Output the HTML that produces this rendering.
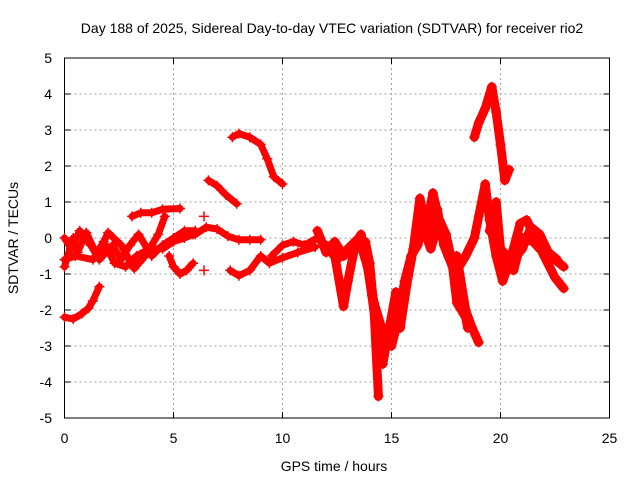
<!DOCTYPE html>
<html><head><meta charset="utf-8"><style>
body{margin:0;background:#fff}
svg{display:block;font-family:"Liberation Sans",sans-serif}
</style></head><body>
<svg id="chart" width="640" height="480" viewBox="0 0 640 480">
<text x="332" y="33" font-size="14" text-anchor="middle">Day 188 of 2025, Sidereal Day-to-day VTEC variation (SDTVAR) for receiver rio2</text>
<text x="334" y="471" font-size="14" text-anchor="middle">GPS time / hours</text>
<text transform="translate(18,238) rotate(-90)" font-size="14" text-anchor="middle">SDTVAR / TECUs</text>
<g id="grid"></g>
<g id="axes"></g>
<g id="marks"></g>
</svg>
<script>
const xTicks=[0,5,10,15,20,25];
const yTicks=[-5,-4,-3,-2,-1,0,1,2,3,4,5];
const trackTimes=[
[0,0.4,0.8,1.1,1.3,1.6],
[0,0.4,0.6,1.0,1.5,2.0,2.6,3.2,3.7,4.3,4.6],
[0,0.3,0.7,1.2,1.6,2.2,2.6,3.0,3.4,4.0,4.5,5.0,5.5,6.0],
[0,0.5,1.3,1.8,2.3,2.8,3.3,3.9,4.5,5.0,5.5,5.9],
[3.1,3.5,4.0,4.5,5.3],
[4.8,5.0,5.3,5.6,5.9],
[6.0,6.5,7.0,7.5,8.0,8.5,9.0],
[6.6,7.0,7.4,7.9],
[7.7,8.0,8.5,9.0,9.3,9.6,10.0],
[7.6,8.0,8.5,9.0,9.4,10.0,10.7,11.5],
[9.5,10.0,10.5,11.0,11.6],
[11.6,12.0,12.4,12.8,13.3,13.6,13.8,14.1,14.3,14.5,14.8,15.0,15.3,15.6,15.9,16.2,16.5,16.8,17.1,17.4,17.8,18.0,18.4,18.5],
[12.4,12.8,13.0,13.3,13.8,14.0,14.2,14.4],
[14.6,14.9,15.2,15.4,15.7,16.0,16.3,16.6,16.9,17.3,17.6,18.0,18.4,18.7,19.0],
[18.0,18.4,18.8,19.0,19.3,19.5,19.8,20.1,20.5,20.9,21.2,21.6,22.0,22.5,22.9],
[19.5,19.8,20.0,20.3,20.6,21.0,21.5,21.8,22.3,22.9],
[18.8,19.0,19.3,19.6,19.8,20.0,20.2,20.4],
[15.3,15.6,15.9,16.2,16.5,16.8,17.2,17.5,17.9,18.2,18.5],
[19.8,20.2,20.6,21.0,21.4,21.8,22.2,22.6],
[12.0,12.5,13.0,13.5,13.9,14.2,14.6,15.0],
[6.4],[6.4]
];
const trackValues=[
[-2.2,-2.25,-2.1,-1.95,-1.75,-1.35],
[-0.8,0,-0.4,0.15,-0.5,0.15,-0.2,-0.85,-0.5,0.1,0.6],
[0,-0.3,0.2,-0.2,-0.6,-0.2,-0.6,-0.2,0.1,-0.5,-0.2,0,0.2,0.2],
[-0.6,-0.5,-0.6,-0.1,-0.7,-0.8,-0.5,-0.3,-0.3,-0.1,0,0.1],
[0.6,0.7,0.7,0.8,0.82],
[-0.5,-0.8,-1.0,-0.9,-0.7],
[0.1,0.3,0.25,0.05,-0.05,-0.05,-0.05],
[1.6,1.45,1.2,0.95],
[2.8,2.9,2.8,2.6,2.2,1.7,1.5],
[-0.9,-1.05,-0.9,-0.5,-0.7,-0.55,-0.4,-0.25],
[-0.5,-0.2,-0.1,-0.2,0],
[0.2,-0.4,-0.1,-0.5,-0.2,0.1,-0.4,-1.6,-2.5,-3.0,-2.8,-3.0,-2.3,-1.2,-0.5,-0.2,0.5,0.2,0.8,-0.2,-0.8,-1.8,-2.2,-2.5],
[-0.5,-1.9,-1.2,-0.3,-0.1,-0.7,-2.0,-4.4],
[-3.5,-2.5,-1.5,-2.5,-1.3,-0.3,1.1,0.3,1.25,0.2,-0.5,-0.5,-2.0,-2.5,-2.9],
[-0.9,-0.5,0,0.6,1.5,0.5,-0.5,-1.2,-0.5,0.4,0.5,0,-0.5,-1.1,-1.4],
[0.2,1.0,-0.3,-0.5,-0.9,0,-0.1,-0.3,-0.5,-0.8],
[2.8,3.2,3.6,4.2,3.5,2.6,1.6,1.9],
[-2.0,-1.5,-0.6,0.3,0.2,-0.3,0.5,0.1,-1.0,-1.5,-2.3],
[-0.3,-1.0,-0.6,-0.3,0.3,0.1,-0.4,-0.6],
[-0.2,-0.6,-0.3,0,-0.8,-1.8,-2.6,-2.6],
[0.6],[-0.9]
];
const X=t=>64.5+t*21.8;
const Y=v=>238-v*36;
const NS='http://www.w3.org/2000/svg';
function mk(tag,attrs,parent){const e=document.createElementNS(NS,tag);for(const k in attrs)e.setAttribute(k,attrs[k]);parent.appendChild(e);return e;}
const grid=document.getElementById('grid'),axes=document.getElementById('axes'),marks=document.getElementById('marks');
xTicks.forEach(t=>{
  if(t>0&&t<25){const l=mk('line',{x1:X(t),x2:X(t),y1:Y(5),y2:Y(-5),stroke:'#a0a0a0','stroke-dasharray':'2,3'},grid);
  
  }
  const tx=mk('text',{x:X(t),y:443,'font-size':14,'text-anchor':'middle'},axes);tx.textContent=t;
  
  
  mk('line',{x1:X(t),x2:X(t),y1:Y(-5),y2:Y(-5)-6,stroke:'#000'},axes);
  mk('line',{x1:X(t),x2:X(t),y1:Y(5),y2:Y(5)+6,stroke:'#000'},axes);
});
yTicks.forEach(v=>{
  if(v>-5&&v<5){const l=mk('line',{x1:X(0),x2:X(25),y1:Y(v),y2:Y(v),stroke:'#a0a0a0','stroke-dasharray':'2,3'},grid);
  
  }
  const tx=mk('text',{x:52,y:Y(v)+5,'font-size':14,'text-anchor':'end'},axes);tx.textContent=v;
  
  
  mk('line',{x1:X(0),x2:X(0)+6,y1:Y(v),y2:Y(v),stroke:'#000'},axes);
  mk('line',{x1:X(25),x2:X(25)-6,y1:Y(v),y2:Y(v),stroke:'#000'},axes);
});
const fr=mk('rect',{x:X(0),y:Y(5),width:X(25)-X(0),height:Y(-5)-Y(5),fill:'none',stroke:'#000'},axes);


trackTimes.forEach((ts,i)=>{
  const vs=trackValues[i];
  const pts=ts.map((t,j)=>X(t)+','+Y(vs[j])).join(' ');
  const w=ts[0]>=11.5?9:7;
  const pl=mk('polyline',{points:pts,fill:'none',stroke:'#ff0000','stroke-width':w,'stroke-linejoin':'round','stroke-linecap':'round'},marks);
  
  
  ts.forEach((t,j)=>{
    const x=X(t),y=Y(vs[j]);
    const p=mk('path',{d:`M${x-5},${y}H${x+5}M${x},${y-5}V${y+5}`,stroke:'#ff0000','stroke-width':1.5},marks);
    
    
  });
});
</script>
</body></html>
